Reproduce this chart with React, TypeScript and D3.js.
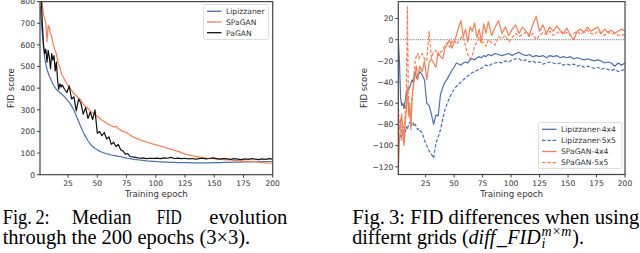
import { useRef, useEffect } from 'react';
import * as d3 from 'd3';

// sampled epochs (dense early, sparser later)
const epochs = [1, 2, 3, 4, 5, 6, 7, 8, 9, 10, 11, 12, 13, 14, 15, 16, 17, 18, 19, 20,
  22, 24, 26, 28, 30, 32, 34, 36, 38, 40, 42, 44, 46, 48, 50, 52, 54, 56, 58, 60,
  62, 64, 66, 68, 70, 72, 74, 76, 78, 80, 83, 86, 89, 92, 95, 98, 101, 104, 107, 110,
  113, 116, 119, 122, 125, 128, 131, 134, 137, 140, 143, 146, 149, 152, 155, 158, 161, 164, 167, 170,
  173, 176, 179, 182, 185, 188, 191, 194, 197, 200];

// Fig. 2 - median FID
const lipizzaner = [780, 720, 650, 590, 540, 510, 488, 470, 455, 445, 432, 420, 410, 402, 395, 390, 385, 380, 375, 370,
  360, 347, 334, 318, 298, 272, 246, 220, 196, 176, 157, 142, 130, 121, 115, 109, 104, 100, 97, 94,
  91, 89, 87, 85, 83, 80, 78, 76, 74, 72, 70, 68, 66, 64, 63, 62, 60, 59, 58, 58,
  57, 57, 56, 56, 56, 56, 55, 55, 55, 55, 55, 55, 56, 56, 56, 57, 57, 57, 58, 58,
  58, 59, 59, 59, 60, 60, 60, 61, 61, 61];
const spagan = [860, 820, 790, 740, 720, 700, 615, 690, 680, 650, 640, 610, 590, 570, 560, 530, 510, 495, 475, 460,
  440, 420, 405, 390, 375, 365, 355, 345, 325, 315, 305, 295, 285, 278, 270, 262, 252, 246, 238, 232,
  226, 220, 224, 212, 206, 200, 196, 192, 183, 177, 168, 163, 156, 151, 146, 141, 137, 132, 128, 122,
  118, 112, 108, 102, 95, 92, 88, 85, 82, 79, 77, 76, 74, 73, 72, 70, 68, 68, 66, 65,
  64, 63, 62, 61, 60, 58, 56, 55, 54, 52];
const pagan = [860, 820, 700, 600, 560, 580, 520, 575, 540, 490, 560, 530, 550, 480, 520, 440, 395, 420, 405, 415,
  395, 380, 410, 350, 360, 295, 350, 330, 280, 310, 260, 290, 255, 300, 192, 200, 180, 195, 165, 175,
  140, 150, 130, 140, 115, 110, 95, 98, 84, 82, 80, 76, 78, 74, 76, 75, 77, 74, 78, 76,
  80, 75, 77, 74, 76, 73, 75, 72, 74, 76, 73, 75, 78, 74, 72, 75, 73, 71, 74, 72,
  70, 73, 71, 74, 72, 70, 73, 71, 74, 72];

// Fig. 3 - FID differences
const lip4x4 = [0, -20, -55, -62, -60, -65, -58, -50, -48, -47, -45, -42, -38, -40, -33, -31, -36, -37, -33, -30,
  -33, -38, -60, -62, -70, -80, -71, -72, -52, -45, -40, -37, -33, -29, -26, -22, -23, -24, -22, -21,
  -22, -19, -18, -19, -17, -16, -17, -15, -16, -14, -15, -13, -14, -15, -14, -13, -15, -13, -12, -14,
  -15, -14, -16, -15, -16, -15, -17, -15, -16, -15, -17, -16, -17, -16, -18, -17, -18, -19, -18, -19,
  -20, -19, -20, -22, -21, -22, -25, -22, -24, -22];
const lip5x5 = [-88, -95, -92, -85, -90, -95, -88, -82, -85, -80, -78, -82, -80, -78, -82, -80, -83, -85, -84, -86,
  -88, -95, -100, -105, -108, -112, -98, -92, -85, -75, -66, -60, -55, -50, -47, -44, -42, -40, -38, -36,
  -34, -33, -31, -30, -29, -28, -27, -25, -24, -25, -23, -22, -21, -22, -20, -21, -19, -18, -18, -20,
  -19, -21, -20, -22, -21, -23, -22, -21, -22, -23, -22, -24, -23, -24, -23, -25, -24, -26, -25, -26,
  -27, -26, -28, -27, -28, -29, -28, -30, -29, -28];
const spa4x4 = [-127, -95, -80, -70, -88, -100, -80, -66, -45, -70, -60, -85, -55, -45, -38, -30, -25, -38, -30, -25,
  -30, -20, -38, -22, -18, -22, -26, -12, -16, -18, -8, -4, 0, -8, -2, 4, 12, 18, 3, 10,
  -2, 12, 8, 16, 2, 10, -2, 15, 6, 17, 4, 12, 18, 6, 12, 4, 10, 14, 6, 12,
  8, 4, 14, 22, 8, 14, 6, 12, 8, 13, 9, 6, 11, 4, 0, 8, 10, 7, 12, 8,
  10, 12, 6, 10, 7, 9, 6, 8, 10, 8];
const spa5x5 = [-60, -85, -75, -95, -80, -90, -70, -50, 31, -73, -65, -80, -60, -46, -30, -19, -15, -13, -18, -16,
  -13, -18, -20, 8, -17, -12, -10, -15, -12, -10, -5, -3, -7, -2, 0, -4, -2, 2, 3, -6,
  -14, -18, -15, -6, -2, 2, -4, -2, -6, 0, -3, -5, 3, 1, 4, -2, 2, 6, 3, 5,
  7, 3, 6, 0, 4, 7, 5, 8, 4, 6, 8, 5, 7, 4, 6, 8, 5, 7, 9, 6,
  5, 8, 6, 4, 7, 5, 6, 4, 5, 4];

const xTicks = [25, 50, 75, 100, 125, 150, 175, 200];
const leftYTicks = [0, 100, 200, 300, 400, 500, 600, 700, 800];
const rightYTicks = [20, 0, -20, -40, -60, -80, -100, -120];

const leftSeries = [
  { name: 'Lipizzaner', values: lipizzaner, color: '#4c72b0', dash: '' },
  { name: 'SPaGAN', values: spagan, color: '#fb7d52', dash: '' },
  { name: 'PaGAN', values: pagan, color: '#111111', dash: '' },
];
const rightSeries = [
  { name: 'Lipizzaner-4x4', values: lip4x4, color: '#4c72b0', dash: '' },
  { name: 'Lipizzaner-5x5', values: lip5x5, color: '#4c72b0', dash: '3.5,1.8' },
  { name: 'SPaGAN-4x4', values: spa4x4, color: '#fb7d52', dash: '' },
  { name: 'SPaGAN-5x5', values: spa5x5, color: '#fb7d52', dash: '3.5,1.8' },
];

const SANS = 'DejaVu Sans, sans-serif';
const SERIF = 'Liberation Serif, serif';
const INK = '#333333';

export default function App() {
  const svgRef = useRef<SVGSVGElement>(null);

  useEffect(() => {
    if (!svgRef.current) return;
    const svg = d3.select(svgRef.current);
    svg.selectAll('*').remove();

    const drawPanel = (
      id: string,
      left: number, right: number, top: number, bottom: number,
      yDomain: [number, number], yTicks: number[],
      series: typeof leftSeries,
      labelX: number, tickRightX: number,
      legend: { x: number; y: number; w: number; h: number; rowH: number },
      zeroLine: boolean,
    ) => {
      const x = d3.scaleLinear().domain([1, 200]).range([left, right]);
      const y = d3.scaleLinear().domain(yDomain).range([bottom, top]);
      const g = svg.append('g');

      g.append('clipPath').attr('id', id)
        .append('rect').attr('x', left).attr('y', top)
        .attr('width', right - left).attr('height', bottom - top);

      if (zeroLine) {
        g.append('line')
          .attr('x1', left).attr('x2', right)
          .attr('y1', y(0)).attr('y2', y(0))
          .attr('stroke', '#555').attr('stroke-width', 0.9)
          .attr('stroke-dasharray', '1,1.2');
      }

      const line = d3.line<number>()
        .x((_, i) => x(epochs[i]))
        .y((d) => y(d));

      g.append('g').attr('clip-path', `url(#${id})`)
        .selectAll('path')
        .data(series)
        .join('path')
        .attr('d', (s) => line(s.values))
        .attr('fill', 'none')
        .attr('stroke', (s) => s.color)
        .attr('stroke-width', 1.2)
        .attr('stroke-dasharray', (s) => s.dash)
        .attr('stroke-linejoin', 'round');

      // frame
      g.append('rect')
        .attr('x', left).attr('y', top)
        .attr('width', right - left).attr('height', bottom - top)
        .attr('fill', 'none').attr('stroke', '#444').attr('stroke-width', 1.2);

      // x ticks
      xTicks.forEach((t) => {
        g.append('line').attr('x1', x(t)).attr('x2', x(t))
          .attr('y1', bottom).attr('y2', bottom + 3)
          .attr('stroke', '#444').attr('stroke-width', 1);
        g.append('text').attr('x', x(t)).attr('y', bottom + 11.5)
          .attr('text-anchor', 'middle').attr('font-family', SANS)
          .attr('font-size', 7.6).attr('fill', INK).text(t);
      });
      // y ticks
      yTicks.forEach((t) => {
        g.append('line').attr('x1', left - 3).attr('x2', left)
          .attr('y1', y(t)).attr('y2', y(t))
          .attr('stroke', '#444').attr('stroke-width', 1);
        g.append('text').attr('x', tickRightX).attr('y', y(t) + 2.8)
          .attr('text-anchor', 'end').attr('font-family', SANS)
          .attr('font-size', 7.6).attr('fill', INK)
          .text(t < 0 ? `\u2212${Math.abs(t)}` : `${t}`);
      });

      g.append('text')
        .attr('x', (left + right) / 2).attr('y', bottom + 22)
        .attr('text-anchor', 'middle').attr('font-family', SANS)
        .attr('font-size', 8.6).attr('fill', INK).text('Training epoch');
      g.append('text')
        .attr('transform', `translate(${labelX},${(top + bottom) / 2}) rotate(-90)`)
        .attr('text-anchor', 'middle').attr('font-family', SANS)
        .attr('font-size', 8.6).attr('fill', INK).text('FID score');

      // legend
      const lg = g.append('g');
      lg.append('rect')
        .attr('x', legend.x).attr('y', legend.y)
        .attr('width', legend.w).attr('height', legend.h)
        .attr('rx', 2).attr('fill', 'white').attr('fill-opacity', 0.85)
        .attr('stroke', '#d6d6d6').attr('stroke-width', 0.8);
      series.forEach((s, i) => {
        const cy = legend.y + 6.8 + i * legend.rowH;
        lg.append('line')
          .attr('x1', legend.x + 3.5).attr('x2', legend.x + 18)
          .attr('y1', cy).attr('y2', cy)
          .attr('stroke', s.color).attr('stroke-width', 1.3)
          .attr('stroke-dasharray', s.dash);
        lg.append('text')
          .attr('x', legend.x + 22.5).attr('y', cy + 2.8)
          .attr('font-family', SANS).attr('font-size', 7.6)
          .attr('fill', INK).text(s.name);
      });
    };

    drawPanel('clipL', 40, 272.7, 1.6, 174.7, [0, 800], leftYTicks, leftSeries,
      13.5, 35, { x: 203.5, y: 4.5, w: 65, h: 35, rowH: 10.7 }, false);
    drawPanel('clipR', 398.3, 625, 1.6, 174.5, [-127.3, 36], rightYTicks, rightSeries,
      366.5, 393.3, { x: 538.5, y: 122.5, w: 83.5, h: 46, rowH: 11.1 }, true);

    // captions
    const cap = svg.append('g').attr('font-family', SERIF).attr('font-size', 20).attr('fill', '#000');
    const word = (s: string, x0: number, yb: number, w?: number) => {
      const t = cap.append('text').attr('x', x0).attr('y', yb).text(s);
      if (w) t.attr('textLength', w).attr('lengthAdjust', 'spacingAndGlyphs');
      return t;
    };
    word('Fig.\u20092:', 2.7, 224.3, 47);
    word('Median', 71.7, 224.3, 60);
    word('FID', 156.7, 224.3, 25);
    word('evolution', 209.3, 224.3, 78);
    word('through the 200 epochs (3\u00d73).', 2.7, 244, 247.5);
    word('Fig.\u20093: FID differences when using', 352.3, 224.3, 287);

    // second line of Fig. 3 caption, built piece by piece
    let cx = 352.3;
    const yb = 244;
    const piece = (s: string, opts: { italic?: boolean; size?: number; dy?: number } = {}) => {
      const t = cap.append('text').attr('x', cx).attr('y', yb + (opts.dy || 0))
        .attr('font-size', opts.size || 20)
        .attr('font-style', opts.italic ? 'italic' : 'normal').text(s);
      return (t.node() as SVGTextElement).getComputedTextLength();
    };
    cx += piece('differnt grids (');
    cx += piece('diff', { italic: true }) + 1.5;
    cx += piece('_') + 0.5;
    cx += piece('FID', { italic: true }) + 1;
    const wSub = piece('i', { italic: true, size: 14, dy: 4 });
    const wSup = piece('m\u00d7m', { italic: true, size: 14, dy: -8 });
    cx += Math.max(wSub, wSup) + 1;
    piece(').');
  }, []);

  return (
    <div style={{ position: 'absolute', left: 0, top: 0, width: 640, height: 253, background: 'white' }}>
      <svg ref={svgRef} width={640} height={253} style={{ display: 'block' }} />
    </div>
  );
}
